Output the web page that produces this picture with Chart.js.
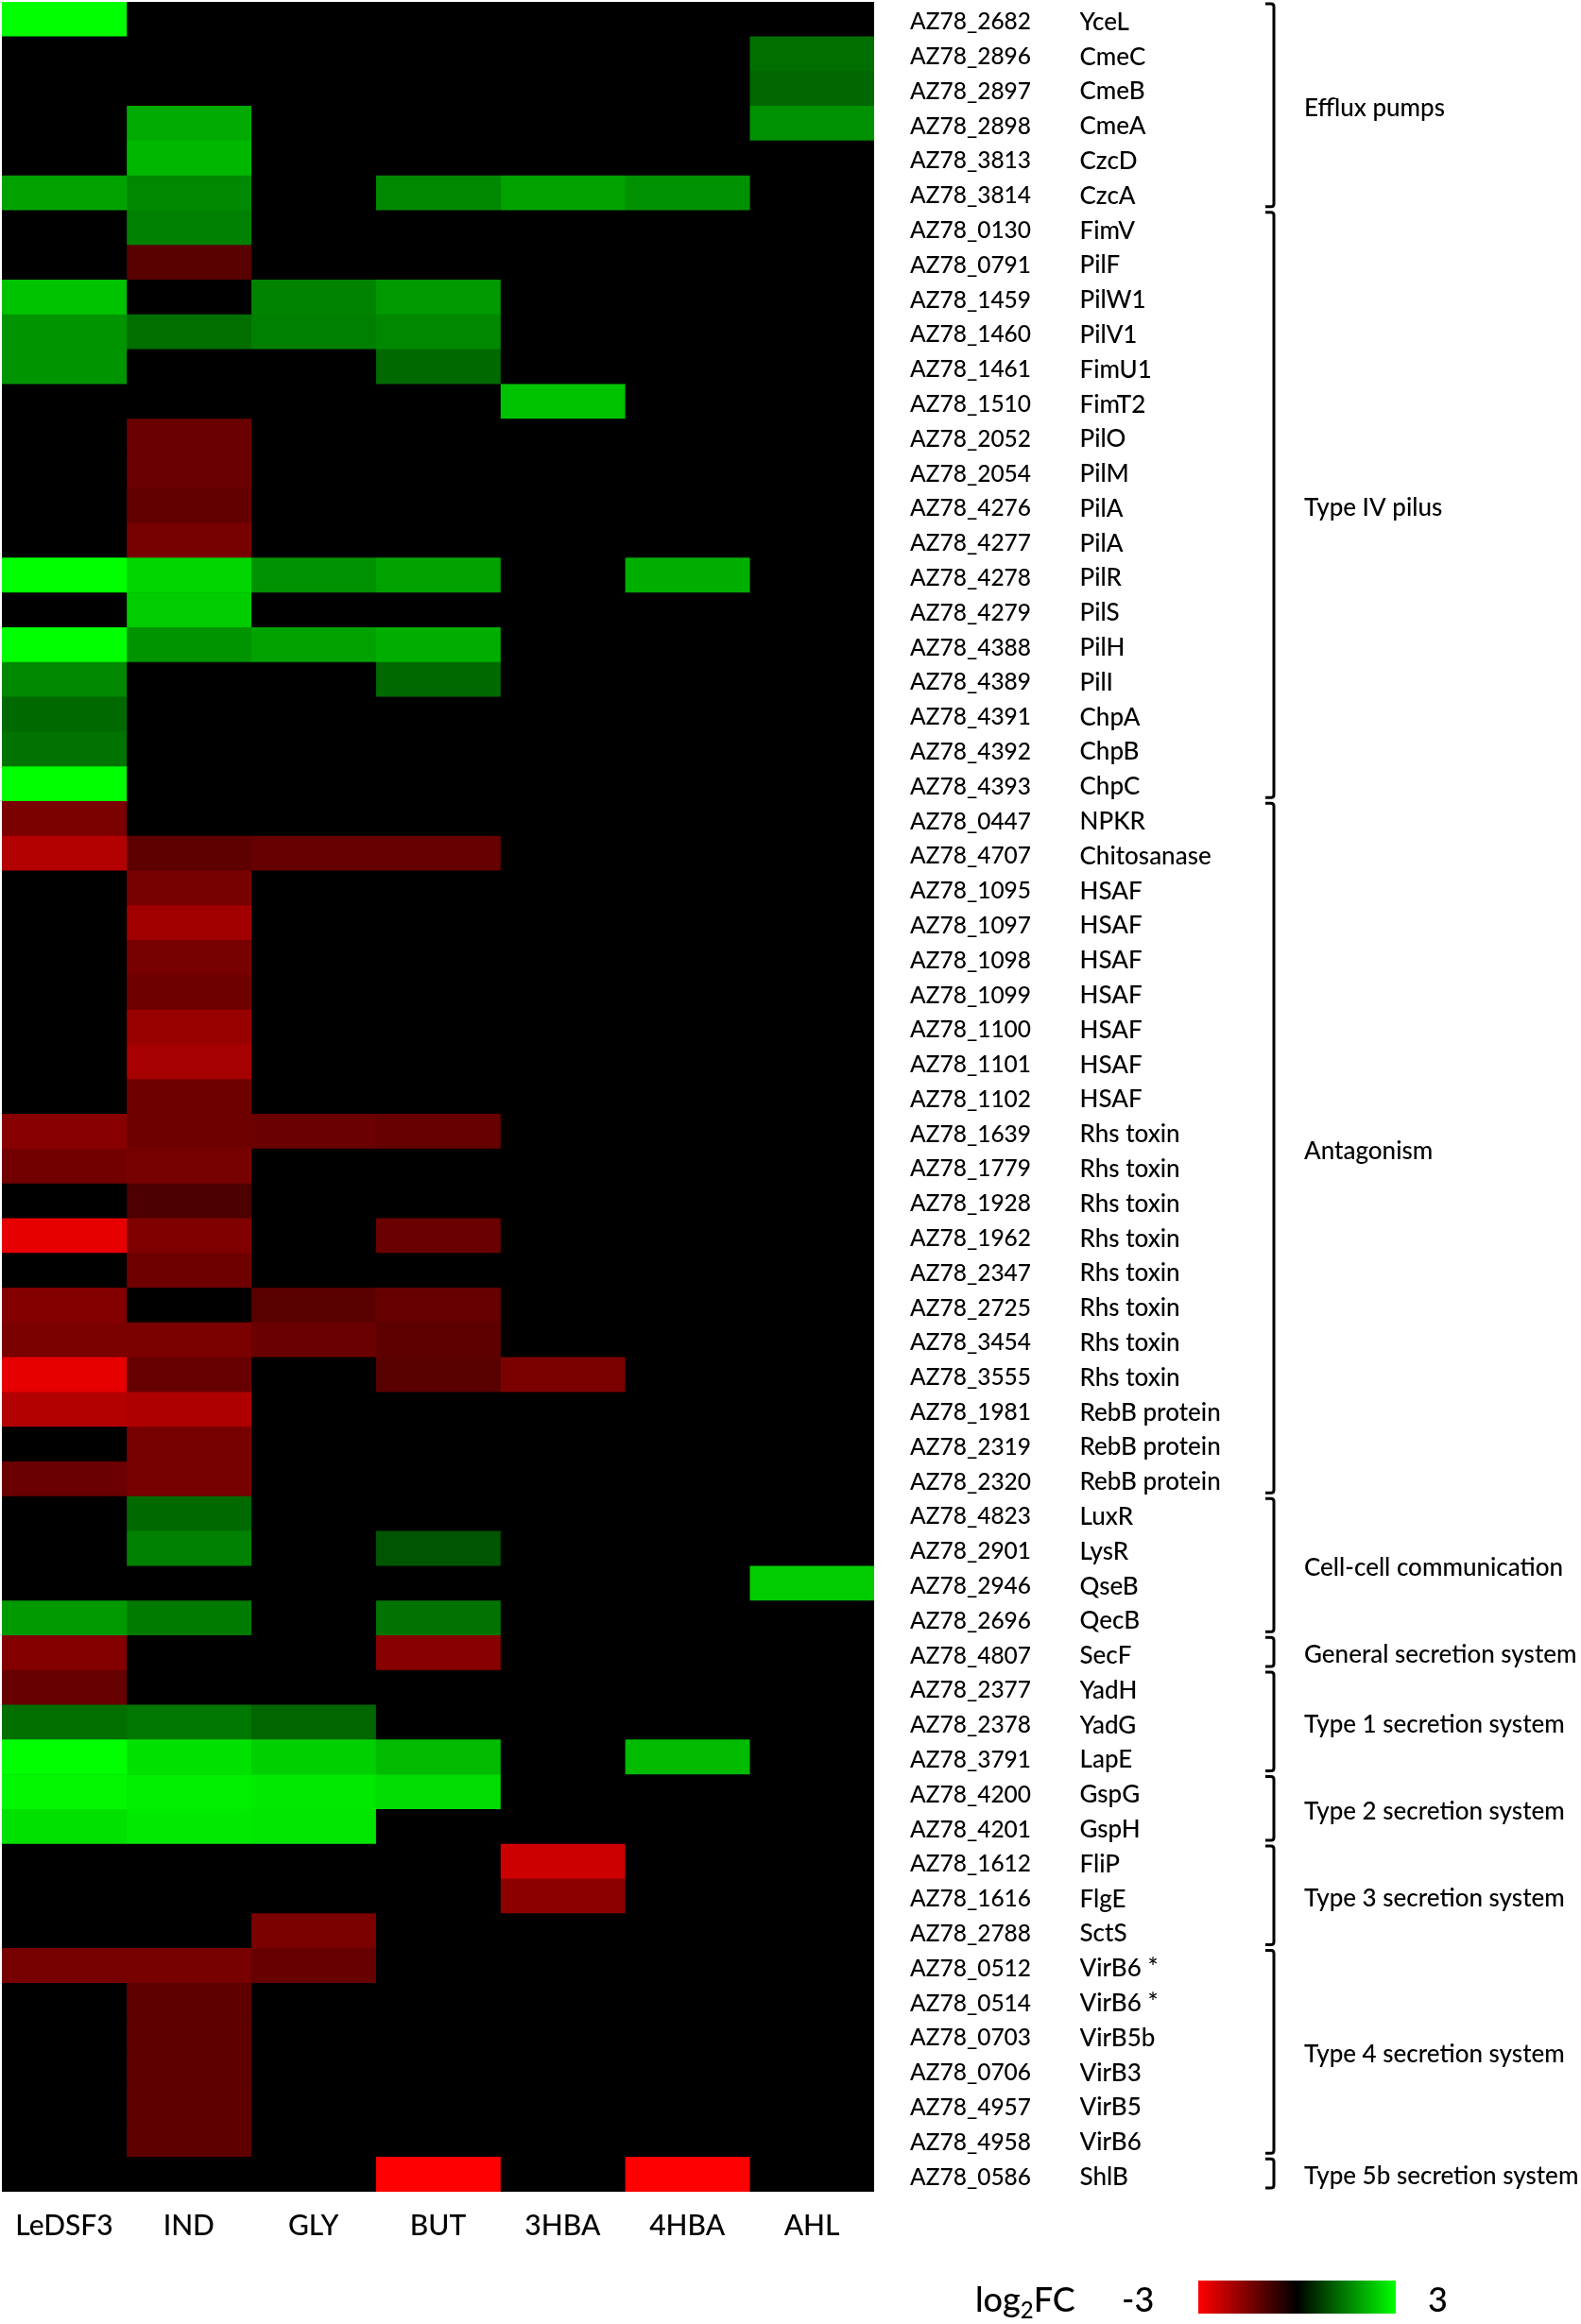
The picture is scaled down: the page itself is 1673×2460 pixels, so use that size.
<!DOCTYPE html>
<html lang="en">
<head>
  <meta charset="UTF-8" />
  <title>log2FC heatmap</title>
  <script src="https://cdn.jsdelivr.net/npm/chart.js"></script>
  <style>
    body { margin: 0; background: #fff; }
    canvas { display: block; }
  </style>
</head>
<body>
  <canvas id="heatmap" width="1673" height="2460"></canvas>

  <script>
    const conditions = ['LeDSF3', 'IND', 'GLY', 'BUT', '3HBA', '4HBA', 'AHL'];

    const locusTags = [
      'AZ78_2682', 'AZ78_2896', 'AZ78_2897', 'AZ78_2898', 'AZ78_3813', 'AZ78_3814', 'AZ78_0130', 'AZ78_0791', 'AZ78_1459',
      'AZ78_1460', 'AZ78_1461', 'AZ78_1510', 'AZ78_2052', 'AZ78_2054', 'AZ78_4276', 'AZ78_4277', 'AZ78_4278', 'AZ78_4279',
      'AZ78_4388', 'AZ78_4389', 'AZ78_4391', 'AZ78_4392', 'AZ78_4393', 'AZ78_0447', 'AZ78_4707', 'AZ78_1095', 'AZ78_1097',
      'AZ78_1098', 'AZ78_1099', 'AZ78_1100', 'AZ78_1101', 'AZ78_1102', 'AZ78_1639', 'AZ78_1779', 'AZ78_1928', 'AZ78_1962',
      'AZ78_2347', 'AZ78_2725', 'AZ78_3454', 'AZ78_3555', 'AZ78_1981', 'AZ78_2319', 'AZ78_2320', 'AZ78_4823', 'AZ78_2901',
      'AZ78_2946', 'AZ78_2696', 'AZ78_4807', 'AZ78_2377', 'AZ78_2378', 'AZ78_3791', 'AZ78_4200', 'AZ78_4201', 'AZ78_1612',
      'AZ78_1616', 'AZ78_2788', 'AZ78_0512', 'AZ78_0514', 'AZ78_0703', 'AZ78_0706', 'AZ78_4957', 'AZ78_4958', 'AZ78_0586'
    ];

    const geneNames = [
      'YceL', 'CmeC', 'CmeB', 'CmeA', 'CzcD', 'CzcA', 'FimV', 'PilF', 'PilW1',
      'PilV1', 'FimU1', 'FimT2', 'PilO', 'PilM', 'PilA', 'PilA', 'PilR', 'PilS',
      'PilH', 'PilI', 'ChpA', 'ChpB', 'ChpC', 'NPKR', 'Chitosanase', 'HSAF', 'HSAF',
      'HSAF', 'HSAF', 'HSAF', 'HSAF', 'HSAF', 'Rhs toxin', 'Rhs toxin', 'Rhs toxin', 'Rhs toxin',
      'Rhs toxin', 'Rhs toxin', 'Rhs toxin', 'Rhs toxin', 'RebB protein', 'RebB protein', 'RebB protein', 'LuxR', 'LysR',
      'QseB', 'QecB', 'SecF', 'YadH', 'YadG', 'LapE', 'GspG', 'GspH', 'FliP',
      'FlgE', 'SctS', 'VirB6 *', 'VirB6 *', 'VirB5b', 'VirB3', 'VirB5', 'VirB6', 'ShlB'
    ];

    // log2FC per condition, one value per gene (10 to a line)
    const ledsf3 = [
      3, 0, 0, 0, 0, 1.9, 0, 0, 2.3, 1.75,
      1.75, 0, 0, 0, 0, 0, 3, 0, 3, 1.6,
      1.25, 1.35, 3, -1.45, -2.1, 0, 0, 0, 0, 0,
      0, 0, -1.6, -1.35, 0, -2.7, 0, -1.55, -1.45, -2.7,
      -2.1, 0, -1.25, 0, 0, 0, 1.8, -1.55, -1.2, 1.3,
      3, 2.9, 2.65, 0, 0, 0, -1.4, 0, 0, 0,
      0, 0, 0
    ];
    const ind = [
      0, 0, 0, 2, 2.15, 1.6, 1.5, -1.05, 0, 1.3,
      0, 0, -1.25, -1.25, -1.15, -1.4, 2.5, 2.4, 1.75, 0,
      0, 0, 0, 0, -1.1, -1.4, -1.9, -1.4, -1.3, -1.8,
      -1.95, -1.3, -1.3, -1.4, -0.9, -1.5, -1.3, 0, -1.45, -1.2,
      -2.05, -1.4, -1.4, 1.25, 1.5, 0, 1.45, 0, 0, 1.4,
      2.65, 2.8, 2.75, 0, 0, 0, -1.4, -1.1, -1.1, -1.1,
      -1.1, -1.1, 0
    ];
    const gly = [
      0, 0, 0, 0, 0, 0, 0, 0, 1.55, 1.5,
      0, 0, 0, 0, 0, 0, 1.7, 0, 1.9, 0,
      0, 0, 0, 0, -1.2, 0, 0, 0, 0, 0,
      0, 0, -1.25, 0, 0, 0, 0, -1.05, -1.25, 0,
      0, 0, 0, 0, 0, 0, 0, 0, 0, 1.2,
      2.45, 2.75, 2.7, 0, 0, -1.45, -1.2, 0, 0, 0,
      0, 0, 0
    ];
    const but = [
      0, 0, 0, 0, 0, 1.6, 0, 0, 1.8, 1.6,
      1.25, 0, 0, 0, 0, 0, 1.9, 0, 2.05, 1.25,
      0, 0, 0, 0, -1.2, 0, 0, 0, 0, 0,
      0, 0, -1.2, 0, 0, -1.25, 0, -1.2, -1.1, -1.05,
      0, 0, 0, 0, 1, 0, 1.35, -1.6, 0, 0,
      2.2, 2.6, 0, 0, 0, 0, 0, 0, 0, 0,
      0, 0, -3
    ];
    const hba3 = [
      0, 0, 0, 0, 0, 1.9, 0, 0, 0, 0,
      0, 2.3, 0, 0, 0, 0, 0, 0, 0, 0,
      0, 0, 0, 0, 0, 0, 0, 0, 0, 0,
      0, 0, 0, 0, 0, 0, 0, 0, 0, -1.45,
      0, 0, 0, 0, 0, 0, 0, 0, 0, 0,
      0, 0, 0, -2.4, -1.65, 0, 0, 0, 0, 0,
      0, 0, 0
    ];
    const hba4 = [
      0, 0, 0, 0, 0, 1.7, 0, 0, 0, 0,
      0, 0, 0, 0, 0, 0, 2.05, 0, 0, 0,
      0, 0, 0, 0, 0, 0, 0, 0, 0, 0,
      0, 0, 0, 0, 0, 0, 0, 0, 0, 0,
      0, 0, 0, 0, 0, 0, 0, 0, 0, 0,
      2.2, 0, 0, 0, 0, 0, 0, 0, 0, 0,
      0, 0, -3
    ];
    const ahl = [
      0, 1.3, 1.2, 1.7, 0, 0, 0, 0, 0, 0,
      0, 0, 0, 0, 0, 0, 0, 0, 0, 0,
      0, 0, 0, 0, 0, 0, 0, 0, 0, 0,
      0, 0, 0, 0, 0, 0, 0, 0, 0, 0,
      0, 0, 0, 0, 0, 2.4, 0, 0, 0, 0,
      0, 0, 0, 0, 0, 0, 0, 0, 0, 0,
      0, 0, 0
    ];
    const columns = [ledsf3, ind, gly, but, hba3, hba4, ahl];

    // functional groups: first and last gene of each bracket
    const groupNames = ['Efflux pumps', 'Type IV pilus', 'Antagonism', 'Cell-cell communication', 'General secretion system',
      'Type 1 secretion system', 'Type 2 secretion system', 'Type 3 secretion system', 'Type 4 secretion system', 'Type 5b secretion system'];
    const groupFirst = ['AZ78_2682', 'AZ78_0130', 'AZ78_0447', 'AZ78_4823', 'AZ78_4807', 'AZ78_2377', 'AZ78_4200', 'AZ78_1612', 'AZ78_0512', 'AZ78_0586'];
    const groupLast = ['AZ78_3814', 'AZ78_4393', 'AZ78_2320', 'AZ78_2696', 'AZ78_4807', 'AZ78_3791', 'AZ78_4201', 'AZ78_2788', 'AZ78_4958', 'AZ78_0586'];

    const scaleMax = 3;
    const fontFamily = 'Lato, sans-serif';
    const labelWeight = '500';

    function cellColor(v) {
      const level = Math.round(Math.min(Math.abs(v) / scaleMax, 1) * 255);
      return v >= 0 ? `rgb(0, ${level}, 0)` : `rgb(${level}, 0, 0)`;
    }

    // fixed axis box, no extra room for tick labels around the plot
    function fixBox(s, width, height) {
      if (width) s.width = width;
      if (height) s.height = height;
      s.paddingTop = s.paddingBottom = s.paddingLeft = s.paddingRight = 0;
    }

    // black panel behind the cells, brackets and colour key on top
    const decorations = {
      id: 'decorations',
      beforeDatasetsDraw(chart) {
        const { ctx, chartArea: a } = chart;
        ctx.save();
        ctx.fillStyle = '#000';
        ctx.fillRect(a.left, a.top, a.right - a.left, a.bottom - a.top);
        ctx.restore();
      },
      afterDraw(chart) {
        const { ctx, scales } = chart;
        const band = scales.y.getPixelForValue(1) - scales.y.getPixelForValue(0);
        ctx.save();
        ctx.strokeStyle = '#000';
        ctx.fillStyle = '#000';
        ctx.lineWidth = 3;
        ctx.textBaseline = 'middle';
        ctx.textAlign = 'left';
        ctx.font = `${labelWeight} 26px ${fontFamily}`;
        groupNames.forEach((name, i) => {
          const y0 = scales.y.getPixelForValue(locusTags.indexOf(groupFirst[i])) - band / 2;
          const y1 = scales.y.getPixelForValue(locusTags.indexOf(groupLast[i])) + band / 2;
          const top = y0 + 2, bottom = y1 - 4;
          ctx.beginPath();
          ctx.moveTo(1339, top);
          ctx.lineTo(1345, top);
          ctx.quadraticCurveTo(1348, top, 1348, top + 3);
          ctx.lineTo(1348, bottom - 3);
          ctx.quadraticCurveTo(1348, bottom, 1345, bottom);
          ctx.lineTo(1339, bottom);
          ctx.stroke();
          ctx.fillText(name, 1380, (y0 + y1) / 2 + 2);
        });

        // colour key
        const key = ctx.createLinearGradient(1268, 0, 1477, 0);
        key.addColorStop(0, cellColor(-scaleMax));
        key.addColorStop(0.5, cellColor(0));
        key.addColorStop(1, cellColor(scaleMax));
        ctx.fillStyle = key;
        ctx.fillRect(1268, 2414, 209, 35);

        ctx.fillStyle = '#000';
        ctx.font = `${labelWeight} 36px ${fontFamily}`;
        ctx.fillText('log', 1032, 2435);
        let x = 1032 + ctx.measureText('log').width;
        ctx.font = `${labelWeight} 24px ${fontFamily}`;
        ctx.fillText('2', x, 2446);
        x += ctx.measureText('2').width;
        ctx.font = `${labelWeight} 36px ${fontFamily}`;
        ctx.fillText('FC', x, 2435);
        ctx.fillText(String(-scaleMax), 1187, 2435);
        ctx.fillText(String(scaleMax), 1511, 2435);
        ctx.restore();
      }
    };

    new Chart(document.getElementById('heatmap'), {
      type: 'bar',
      data: {
        labels: locusTags,
        datasets: conditions.map((name, c) => ({
          label: name,
          data: columns[c].map(() => [c, c + 1]),
          backgroundColor: columns[c].map(cellColor),
          borderWidth: 0,
          barPercentage: 1,
          categoryPercentage: 1,
          grouped: false
        }))
      },
      options: {
        indexAxis: 'y',
        responsive: false,
        animation: false,
        devicePixelRatio: 1,
        layout: { padding: { left: 2, top: 2, right: 0, bottom: 0 } },
        plugins: { legend: { display: false }, title: { display: false }, tooltip: { enabled: false } },
        scales: {
          x: { type: 'linear', min: 0, max: conditions.length, display: false },
          xLabels: {
            type: 'category',
            labels: conditions,
            position: 'bottom',
            offset: true,
            grid: { display: false, drawTicks: false },
            border: { display: false },
            ticks: { color: '#000', font: { family: fontFamily, size: 30, weight: labelWeight }, padding: 18, autoSkip: false, maxRotation: 0 },
            afterFit: (s) => fixBox(s, 0, 140)
          },
          y: {
            type: 'category',
            position: 'right',
            offset: true,
            grid: { display: false, drawTicks: false },
            border: { display: false },
            ticks: { color: '#000', font: { family: fontFamily, size: 24.5, weight: labelWeight }, padding: 38, labelOffset: 3, crossAlign: 'near', autoSkip: false },
            afterFit: (s) => fixBox(s, 217.5, 0)
          },
          names: {
            type: 'category',
            labels: geneNames,
            position: 'right',
            offset: true,
            grid: { display: false, drawTicks: false },
            border: { display: false },
            ticks: { color: '#000', font: { family: fontFamily, size: 26, weight: labelWeight }, padding: 0, labelOffset: 3, crossAlign: 'near', autoSkip: false },
            afterFit: (s) => fixBox(s, 530.5, 0)
          }
        }
      },
      plugins: [decorations]
    });
  </script>
</body>
</html>
